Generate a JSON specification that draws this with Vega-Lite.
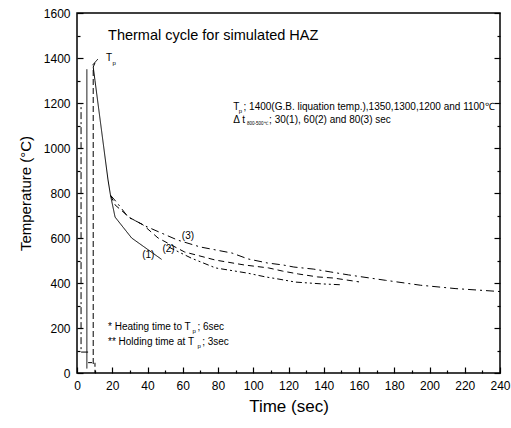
{
  "$schema": "https://vega.github.io/schema/vega-lite/v6.json",
  "width": 423,
  "height": 360,
  "autosize": {"type": "none"},
  "padding": {"left": 77, "top": 13, "right": 11, "bottom": 55},
  "background": "white",
  "config": {
    "view": {"stroke": "black", "strokeWidth": 1.5},
    "font": "Liberation Sans",
    "axis": {"domain": false, "grid": false, "labelFont": "Liberation Sans", "titleFont": "Liberation Sans", "labelColor": "black", "titleColor": "black", "tickColor": "black", "titleFontWeight": "normal", "tickWidth": 1.2}
  },
  "datasets": {
    "curves": [
      {"s": "h1", "o": 1, "t": 5.6, "T": 20}, {"s": "h1", "o": 2, "t": 5.6, "T": 1350},
      {"s": "h2", "o": 1, "t": 9.2, "T": 40}, {"s": "h2", "o": 2, "t": 9.2, "T": 1360}, {"s": "h2", "o": 3, "t": 10.2, "T": 1378},
      {"s": "h3", "o": 1, "t": 6.3, "T": 93}, {"s": "h3", "o": 2, "t": 2.3, "T": 93}, {"s": "h3", "o": 3, "t": 2.3, "T": 1200},
      {"s": "h4", "o": 1, "t": 6.3, "T": 46}, {"s": "h4", "o": 2, "t": 10.2, "T": 46}, {"s": "h4", "o": 3, "t": 10.2, "T": 0},
      {"s": "c1", "o": 1, "t": 9.2, "T": 1360}, {"s": "c1", "o": 2, "t": 10.2, "T": 1300}, {"s": "c1", "o": 3, "t": 17.6, "T": 858}, {"s": "c1", "o": 4, "t": 19, "T": 790}, {"s": "c1", "o": 5, "t": 21.6, "T": 693}, {"s": "c1", "o": 6, "t": 31, "T": 600}, {"s": "c1", "o": 7, "t": 48, "T": 505},
      {"s": "c2", "o": 1, "t": 19, "T": 790}, {"s": "c2", "o": 2, "t": 21.6, "T": 747}, {"s": "c2", "o": 3, "t": 30, "T": 690}, {"s": "c2", "o": 4, "t": 37.5, "T": 658}, {"s": "c2", "o": 5, "t": 46, "T": 600}, {"s": "c2", "o": 6, "t": 61, "T": 538}, {"s": "c2", "o": 7, "t": 78.5, "T": 502}, {"s": "c2", "o": 8, "t": 95, "T": 480}, {"s": "c2", "o": 9, "t": 108.7, "T": 467}, {"s": "c2", "o": 10, "t": 116.6, "T": 453}, {"s": "c2", "o": 11, "t": 125.7, "T": 440}, {"s": "c2", "o": 12, "t": 136.5, "T": 427}, {"s": "c2", "o": 13, "t": 145.6, "T": 422}, {"s": "c2", "o": 14, "t": 160, "T": 405},
      {"s": "c3", "o": 1, "t": 19, "T": 790}, {"s": "c3", "o": 2, "t": 22.8, "T": 756}, {"s": "c3", "o": 3, "t": 29, "T": 693}, {"s": "c3", "o": 4, "t": 40, "T": 649}, {"s": "c3", "o": 5, "t": 57, "T": 591}, {"s": "c3", "o": 6, "t": 70, "T": 560}, {"s": "c3", "o": 7, "t": 88, "T": 533}, {"s": "c3", "o": 8, "t": 97, "T": 507}, {"s": "c3", "o": 9, "t": 108, "T": 489}, {"s": "c3", "o": 10, "t": 117, "T": 480}, {"s": "c3", "o": 11, "t": 123, "T": 471}, {"s": "c3", "o": 12, "t": 134, "T": 462}, {"s": "c3", "o": 13, "t": 144, "T": 449}, {"s": "c3", "o": 14, "t": 154, "T": 436}, {"s": "c3", "o": 15, "t": 175, "T": 412}, {"s": "c3", "o": 16, "t": 195, "T": 390}, {"s": "c3", "o": 17, "t": 215, "T": 375}, {"s": "c3", "o": 18, "t": 240, "T": 362},
      {"s": "c4", "o": 1, "t": 52, "T": 560}, {"s": "c4", "o": 2, "t": 65, "T": 510}, {"s": "c4", "o": 3, "t": 78.6, "T": 467}, {"s": "c4", "o": 4, "t": 96.7, "T": 444}, {"s": "c4", "o": 5, "t": 107, "T": 427}, {"s": "c4", "o": 6, "t": 114, "T": 418}, {"s": "c4", "o": 7, "t": 124, "T": 404}, {"s": "c4", "o": 8, "t": 139, "T": 396}, {"s": "c4", "o": 9, "t": 150, "T": 392},
      {"s": "arrow", "o": 1, "t": 11.8, "T": 1395}, {"s": "arrow", "o": 2, "t": 8.8, "T": 1368}
    ],
    "big": [
      {"t": 17.6, "T": 1498, "label": "Thermal cycle for simulated HAZ"}
    ],
    "mid": [
      {"t": 16.5, "T": 1402, "label": "T"},
      {"t": 88.7, "T": 1184, "label": "T"},
      {"t": 88.7, "T": 1124, "label": "Δ  t"},
      {"t": 94.5, "T": 1184, "label": "; 1400(G.B. liquation temp.),1350,1300,1200 and 1100℃"},
      {"t": 109, "T": 1124, "label": "; 30(1), 60(2) and 80(3) sec"},
      {"t": 37, "T": 524, "label": "(1)"},
      {"t": 48.5, "T": 551, "label": "(2)"},
      {"t": 59.5, "T": 609, "label": "(3)"},
      {"t": 17.6, "T": 204, "label": "*  Heating time to T"},
      {"t": 17.6, "T": 138, "label": "** Holding time at T"},
      {"t": 68.3, "T": 204, "label": "; 6sec"},
      {"t": 71, "T": 138, "label": "; 3sec"}
    ],
    "sub": [
      {"t": 20.2, "T": 1380, "label": "p"},
      {"t": 91.8, "T": 1165, "label": "p"},
      {"t": 65.6, "T": 186, "label": "p"},
      {"t": 68.4, "T": 120, "label": "p"}
    ],
    "tiny": [
      {"t": 96.5, "T": 1108, "label": "800-500℃"}
    ]
  },
  "encoding": {
    "x": {"field": "t", "type": "quantitative", "scale": {"domain": [0, 240], "nice": false},
      "axis": {"title": "Time (sec)", "titleFontSize": 17, "titlePadding": 4, "labelFontSize": 12, "labelPadding": 13, "format": "d",
        "values": [0,10,20,30,40,50,60,70,80,90,100,110,120,130,140,150,160,170,180,190,200,210,220,230,240],
        "labelExpr": "datum.value % 20 === 0 ? datum.label : ''",
        "tickSize": {"condition": {"test": "datum.value % 20 === 0", "value": -6}, "value": -3}, "labelFlush": false, "labelOverlap": false}},
    "y": {"field": "T", "type": "quantitative", "axis": null, "scale": {"domain": [0, 1600], "nice": false}}
  },
  "resolve": {"axis": {"y": "independent"}},
  "layer": [
    {
      "data": {"name": "curves"},
      "mark": {"type": "line", "color": "black", "strokeWidth": 1},
      "encoding": {
        "y": {"field": "T", "type": "quantitative",
          "axis": {"title": "Temperature (°C)", "titleFontSize": 15, "titlePadding": 10, "labelFontSize": 12, "labelPadding": 13, "format": "d",
            "values": [0,100,200,300,400,500,600,700,800,900,1000,1100,1200,1300,1400,1500,1600],
            "labelExpr": "datum.value % 200 === 0 ? datum.label : ''",
            "tickSize": {"condition": {"test": "datum.value % 200 === 0", "value": -6}, "value": -3}, "labelOverlap": false, "labelFlush": false}},
        "detail": {"field": "s"},
        "order": {"field": "o", "type": "quantitative"},
        "strokeDash": {"field": "s", "type": "nominal", "legend": null,
          "scale": {"domain": ["h1","h2","h3","h4","c1","c2","c3","c4","arrow"],
            "range": [[1,0],[6,3],[7,3,2,3],[4,3],[1,0],[6,4],[8,4,2,4],[6,3,2,3,2,3],[1,0]]}}
      }
    },
    {
      "data": {"name": "big"},
      "mark": {"type": "text", "align": "left", "baseline": "middle", "fontSize": 14.5, "font": "Liberation Sans"},
      "encoding": {"text": {"field": "label"}}
    },
    {
      "data": {"name": "mid"},
      "mark": {"type": "text", "align": "left", "baseline": "middle", "fontSize": 10, "font": "Liberation Sans"},
      "encoding": {"text": {"field": "label"}}
    },
    {
      "data": {"name": "sub"},
      "mark": {"type": "text", "align": "left", "baseline": "middle", "fontSize": 6, "font": "Liberation Sans", "color": "black"},
      "encoding": {"text": {"field": "label"}}
    },
    {
      "data": {"name": "tiny"},
      "mark": {"type": "text", "align": "left", "baseline": "middle", "fontSize": 4.5, "font": "Liberation Sans"},
      "encoding": {
        "y": {"field": "T", "type": "quantitative",
          "axis": {"orient": "right", "title": null, "labels": false, "values": [0,100,200,300,400,500,600,700,800,900,1000,1100,1200,1300,1400,1500,1600],
            "tickSize": {"condition": {"test": "datum.value % 200 === 0", "value": -6}, "value": -3}}},
        "text": {"field": "label"}
      }
    }
  ]
}
